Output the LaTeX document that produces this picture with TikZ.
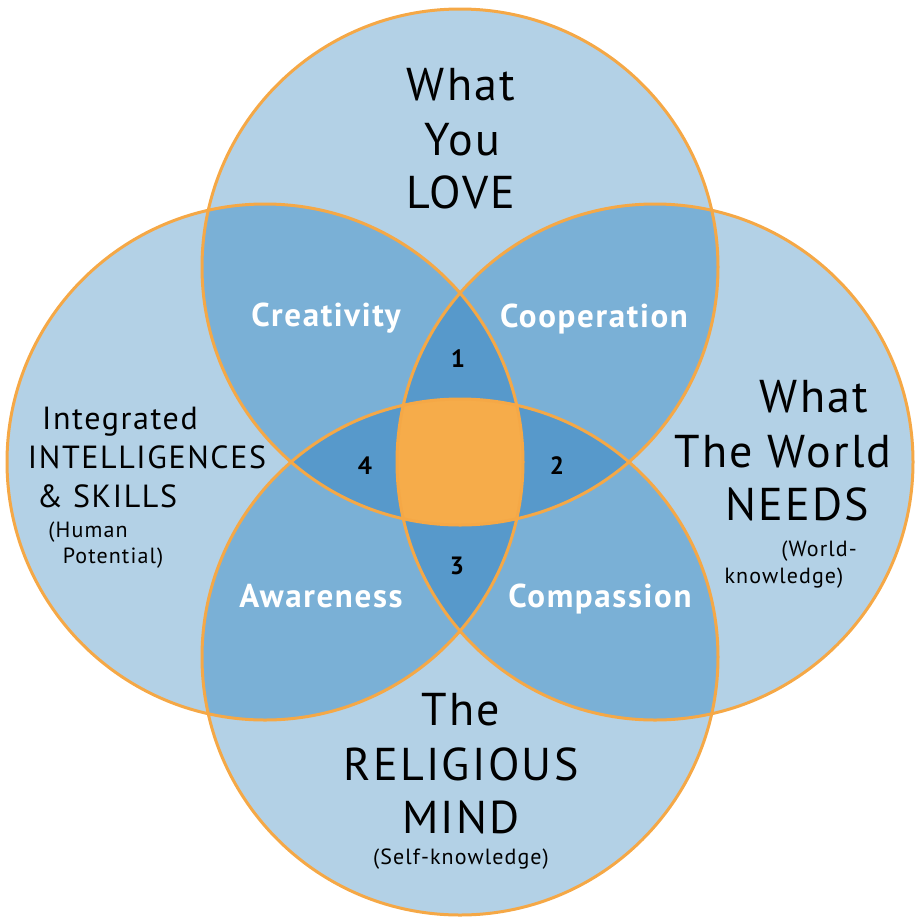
\documentclass[tikz,border=0pt]{standalone}
\usepackage{fontspec}
\setmainfont{PT Sans}[LetterSpace=5]

\definecolor{skyfill}{RGB}{179,209,230}
\definecolor{pairfill}{RGB}{122,176,214}
\definecolor{triplefill}{RGB}{87,153,203}
\definecolor{corefill}{RGB}{246,172,74}
\definecolor{rimline}{RGB}{245,168,70}

\begin{document}
\begin{tikzpicture}[
			x = 1pt, y = -1pt,
			big/.style = {font = \fontsize{46}{55}\selectfont, anchor = base, inner sep = 0},
			mid/.style = {font = \fontsize{32}{39}\selectfont, anchor = base, inner sep = 0},
			small/.style = {font = \fontsize{22}{26}\selectfont, anchor = base, inner sep = 0},
			virtue/.style = {font = \fontsize{33}{38}\selectfont\bfseries, text = white, anchor = base, inner sep = 0},
			num/.style = {font = \fontsize{25}{30}\selectfont\bfseries, anchor = base, inner sep = 0},
			rim/.style = {draw = rimline, line width = 3pt}
		]

			\def\r{258pt}
			\useasboundingbox (0,0) rectangle (918,919);

			\coordinate (love) at (460,267);
			\coordinate (mind) at (460,657);
			\coordinate (skill) at (265,462);
			\coordinate (world) at (655,462);

			% single circles
			\foreach \c in {love,mind,skill,world}
				\fill[skyfill] (\c) circle (\r);

			% two circles overlapping
			\foreach \a/\b in {love/skill,love/world,mind/skill,mind/world,love/mind,skill/world}{
				\begin{scope}
					\clip (\a) circle (\r);
					\fill[pairfill] (\b) circle (\r);
				\end{scope}
			}

			% three circles overlapping
			\foreach \a/\b/\c in {love/skill/world,love/world/mind,mind/skill/world,love/skill/mind}{
				\begin{scope}
					\clip (\a) circle (\r);
					\clip (\b) circle (\r);
					\fill[triplefill] (\c) circle (\r);
				\end{scope}
			}

			% all four
			\begin{scope}
				\clip (love) circle (\r);
				\clip (mind) circle (\r);
				\clip (skill) circle (\r);
				\fill[corefill] (world) circle (\r);
			\end{scope}

			\foreach \c in {love,mind,skill,world}
				\draw[rim] (\c) circle (\r);

			% top
			\node[big] (loveA) at (461,100) {What};
			\node[big] (loveB) at (462,155) {You};
			\node[big] (loveC) at (461,208) {LOVE};

			% right
			\node[big] (worldA) at (814,412) {What};
			\node[big] (worldB) at (783,467) {The World};
			\node[big] (worldC) at (797,520) {NEEDS};
			\node[small] (worldD) at (819,556) {(World-};
			\node[small] (worldE) at (784,583) {knowledge)};

			% bottom
			\node[big] (mindA) at (461,725) {The};
			\node[big] (mindB) at (461,780) {RELIGIOUS};
			\node[big] (mindC) at (461,833) {MIND};
			\node[small] (mindD) at (461,864) {(Self-knowledge)};

			% left
			\node[mid] (skillA) at (120,429) {Integrated};
			\node[mid] (skillB) at (147,468) {INTELLIGENCES};
			\node[mid] (skillC) at (107,507) {\& SKILLS};
			\node[small] (skillD) at (88,537) {(Human};
			\node[small] (skillE) at (113,563) {Potential)};

			% overlaps
			\node[virtue] (creativity) at (326,326) {Creativity};
			\node[virtue] (cooperation) at (594,327) {Cooperation};
			\node[virtue] (awareness) at (321,607) {Awareness};
			\node[virtue] (compassion) at (600,607) {Compassion};

			\node[num] (one) at (458,367) {1};
			\node[num] (two) at (557,474) {2};
			\node[num] (three) at (457,574) {3};
			\node[num] (four) at (365,474) {4};

		\end{tikzpicture}
\end{document}
